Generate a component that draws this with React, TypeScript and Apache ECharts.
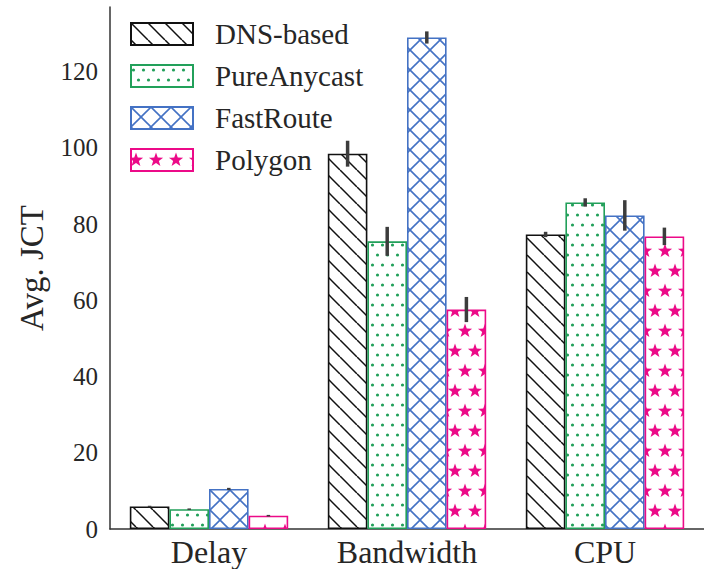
import React, { useEffect, useRef } from 'react';
import * as echarts from 'echarts';

const categories = ['Delay', 'Bandwidth', 'CPU'];
const methods = ['DNS-based', 'PureAnycast', 'FastRoute', 'Polygon'];
const dnsBased = [5.9, 98.5, 77.3];
const pureAnycast = [5.2, 75.5, 85.7];
const fastRoute = [10.5, 129.0, 82.3];
const polygon = [3.5, 57.6, 76.8];
const dnsErr = [0.2, 3.4, 0.7];
const pureErr = [0.2, 3.8, 1.1];
const fastErr = [0.3, 1.6, 4.0];
const polyErr = [0.2, 3.3, 2.3];
const yTicks = [0, 20, 40, 60, 80, 100, 120];

const BLACK = '#111111';
const GREEN = '#22a05a';
const BLUE = '#4472c4';
const MAGENTA = '#ec0a88';
const FONT = "'Liberation Serif', 'Times New Roman', Times, serif";

function makeCanvas(w: number, h: number, draw: (ctx: CanvasRenderingContext2D) => void) {
  const c = document.createElement('canvas');
  c.width = w;
  c.height = h;
  const ctx = c.getContext('2d') as CanvasRenderingContext2D;
  ctx.fillStyle = '#ffffff';
  ctx.fillRect(0, 0, w, h);
  draw(ctx);
  return { image: c, repeat: 'repeat', imageWidth: w, imageHeight: h };
}

function hatchBack(P: number, color: string) {
  return makeCanvas(P, P, (ctx) => {
    ctx.strokeStyle = color;
    ctx.lineWidth = 1.5;
    for (const x0 of [-P, 0, P]) {
      ctx.beginPath();
      ctx.moveTo(x0, 0);
      ctx.lineTo(x0 + P, P);
      ctx.stroke();
    }
  });
}

function crossHatch(P: number, color: string) {
  return makeCanvas(P, P, (ctx) => {
    ctx.strokeStyle = color;
    ctx.lineWidth = 1.6;
    for (const x0 of [-P, 0, P]) {
      ctx.beginPath();
      ctx.moveTo(x0, 0);
      ctx.lineTo(x0 + P, P);
      ctx.stroke();
      ctx.beginPath();
      ctx.moveTo(x0, P);
      ctx.lineTo(x0 + P, 0);
      ctx.stroke();
    }
  });
}

function dots(color: string) {
  return makeCanvas(10, 20, (ctx) => {
    ctx.fillStyle = color;
    for (const [x, y] of [[2.5, 5], [7.5, 15]]) {
      ctx.beginPath();
      ctx.arc(x, y, 1.6, 0, Math.PI * 2);
      ctx.fill();
    }
  });
}

function starPath(ctx: CanvasRenderingContext2D, cx: number, cy: number, R: number) {
  const r = R * 0.4;
  ctx.beginPath();
  for (let i = 0; i < 10; i++) {
    const a = -Math.PI / 2 + (i * Math.PI) / 5;
    const rr = i % 2 === 0 ? R : r;
    const x = cx + rr * Math.cos(a);
    const y = cy + rr * Math.sin(a);
    if (i === 0) ctx.moveTo(x, y);
    else ctx.lineTo(x, y);
  }
  ctx.closePath();
  ctx.fill();
}

function stars(color: string) {
  return makeCanvas(20, 40, (ctx) => {
    ctx.fillStyle = color;
    const R = 7.5;
    for (const [x, y] of [[5, 11], [25, 11], [15, 31], [-5, 31]]) {
      starPath(ctx, x, y, R);
    }
  });
}

const css = `#chart-root text, #chart-root tspan { font-family: 'Liberation Serif', 'Times New Roman', Times, serif !important; }`;

export default function App() {
  const ref = useRef<HTMLDivElement>(null);
  useEffect(() => {
    if (!ref.current) return;
    const chart = echarts.init(ref.current, undefined, { renderer: 'svg' });
    const means = [dnsBased, pureAnycast, fastRoute, polygon];
    const errs = [dnsErr, pureErr, fastErr, polyErr];
    const borders = [BLACK, GREEN, BLUE, MAGENTA];
    const patterns = [hatchBack(17, BLACK), dots(GREEN), crossHatch(20, BLUE), stars(MAGENTA)];

    const barSeries = methods.map((name, i) => ({
      name,
      type: 'bar',
      data: means[i],
      barGap: '0%',
      barCategoryGap: '20%',
      itemStyle: {
        color: patterns[i],
        borderColor: borders[i],
        borderWidth: 1.6,
      },
      emphasis: { disabled: true },
    }));

    const errData: number[][] = [];
    methods.forEach((_, s) => {
      categories.forEach((_, c) => {
        errData.push([c, s, means[s][c] - errs[s][c], means[s][c] + errs[s][c]]);
      });
    });

    const option: any = {
      animation: false,
      backgroundColor: '#ffffff',
      textStyle: { fontFamily: FONT },
      grid: { left: 110, right: 0, top: 7, bottom: 40, containLabel: false },
      legend: {
        data: methods,
        orient: 'vertical',
        left: 130,
        top: 19,
        padding: 0,
        itemWidth: 62,
        itemHeight: 22,
        itemGap: 12,
        icon: 'rect',
        selectedMode: false,
        textStyle: {
          fontFamily: FONT,
          fontSize: 29,
          color: '#262626',
          lineHeight: 30,
          padding: [0, 0, 0, 17],
        },
      },
      xAxis: {
        type: 'category',
        data: categories,
        axisLine: { lineStyle: { color: '#333333', width: 1.5 } },
        axisTick: { show: false },
        axisLabel: {
          fontFamily: FONT,
          fontSize: 32,
          color: '#262626',
          margin: 7,
          interval: 0,
        },
      },
      yAxis: {
        type: 'value',
        min: 0,
        max: 137,
        interval: 20,
        name: 'Avg. JCT',
        nameLocation: 'middle',
        nameRotate: 90,
        nameGap: 62,
        nameTextStyle: { fontFamily: FONT, fontSize: 33, color: '#262626' },
        axisLine: { show: true, lineStyle: { color: '#333333', width: 1.5 } },
        axisTick: { show: false },
        splitLine: { show: false },
        axisLabel: {
          fontFamily: FONT,
          fontSize: 25,
          color: '#262626',
          margin: 12,
          showMaxLabel: false,
          formatter: (v: number) => (yTicks.includes(v) ? String(v) : ''),
        },
      },
      series: [
        ...barSeries,
        {
          name: 'err',
          type: 'custom',
          data: errData,
          encode: { x: 0, y: [2, 3] },
          z: 10,
          silent: true,
          renderItem: (params: any, api: any) => {
            const cat = api.value(0);
            const s = api.value(1);
            const lo = api.value(2);
            const hi = api.value(3);
            const band = api.size([1, 0])[0];
            const barW = (band * 0.8) / 4;
            const p0 = api.coord([cat, lo]);
            const p1 = api.coord([cat, hi]);
            const x = p0[0] + (s - 1.5) * barW;
            return {
              type: 'line',
              shape: { x1: x, y1: p0[1], x2: x, y2: p1[1] },
              style: { stroke: '#3c3c3c', lineWidth: 3.5 },
            };
          },
        },
      ],
    };
    chart.setOption(option);
    return () => chart.dispose();
  }, []);
  return (
    <>
      <style>{css}</style>
      <div
        id="chart-root"
        ref={ref}
        style={{ position: 'fixed', left: 0, top: 0, width: 704, height: 569, background: '#fff' }}
      />
    </>
  );
}
